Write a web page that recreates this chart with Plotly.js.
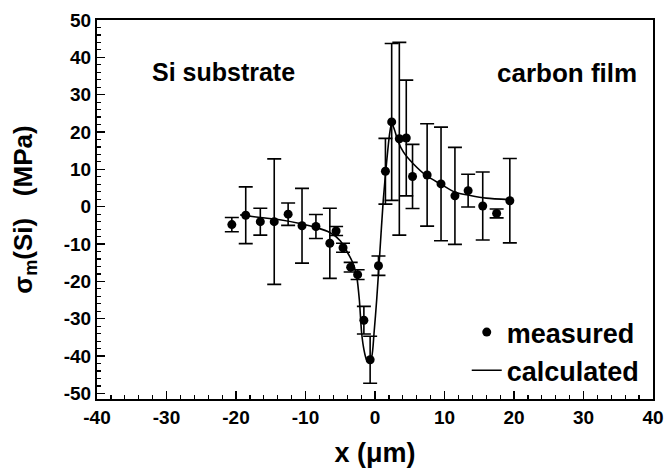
<!DOCTYPE html>
<html>
<head>
<meta charset="utf-8">
<script src="https://cdn.plot.ly/plotly-3.0.1.min.js"></script>
<style>html,body{margin:0;padding:0;background:#fff;}#chart{width:665px;height:469px;}</style>
</head>
<body>
<div id="chart"></div>
<script>
// measured data (position in µm, stress in MPa, error in MPa)
var measuredX = [-20.6, -18.6, -16.5, -14.5, -12.5, -10.5, -8.5, -6.5, -5.6, -4.6, -3.5, -2.5, -1.6, -0.7, 0.5, 1.5, 2.4, 3.5, 4.5, 5.4, 7.5, 9.5, 11.5, 13.4, 15.5, 17.5, 19.4];
var measuredY = [-4.8, -2.3, -4.0, -4.0, -2.0, -5.1, -5.3, -9.8, -6.5, -11.0, -16.2, -18.2, -30.4, -41.0, -15.8, 9.5, 22.7, 18.2, 18.4, 8.1, 8.5, 6.1, 2.9, 4.3, 0.2, -1.8, 1.6];
var measuredErr = [1.9, 7.6, 3.6, 16.8, 3.0, 10.0, 3.2, 9.4, 1.2, 1.2, 1.3, 1.3, 3.7, 6.3, 2.6, 8.8, 21.0, 25.8, 15.5, 8.6, 13.7, 15.2, 13.0, 4.4, 9.1, 1.2, 11.3];

// calculated curve
var calcX = [-19.4, -16.5, -13.7, -10.8, -8.4, -6.5, -5.0, -4.1, -3.2, -2.63, -2.25, -1.92, -1.58, -1.25, -0.96, -0.48, -0.14, 0.24, 0.72, 1.19, 1.7, 2.1, 2.4, 2.8, 3.3, 4.1, 5.5, 7.4, 9.4, 11.5, 13.7, 16.0, 19.4];
var calcY = [-2.2, -2.9, -3.5, -4.5, -5.6, -6.9, -9.1, -11.8, -15.0, -18.7, -25.0, -33.9, -38.4, -40.8, -41.5, -40.2, -33.9, -25.0, -11.6, 1.8, 12.5, 19.5, 22.4, 20.6, 17.6, 14.6, 11.5, 8.3, 6.1, 3.9, 3.0, 2.3, 1.9];

var xTickVals = [-40, -30, -20, -10, 0, 10, 20, 30, 40];
var xTickText = ['-40', '-30', '-20', '-10', '0', '10', '20', '30', '40'];
var yTickVals = [50, 40, 30, 20, 10, 0, -10, -20, -30, -40, -50];
var yTickText = ['50', '40', '30', '20', '10', '0', '-10', '-20', '-30', '-40', '-50'];

var FONT = 'Liberation Sans, Arial, Helvetica, sans-serif';

var traces = [
  {
    x: measuredX, y: measuredY, type: 'scatter', mode: 'markers', name: 'measured',
    marker: {color: '#000', size: 9},
    error_y: {type: 'data', array: measuredErr, visible: true, color: '#000', thickness: 1.6, width: 7}
  },
  {
    x: calcX, y: calcY, type: 'scatter', mode: 'lines', name: 'calculated',
    line: {color: '#000', width: 1.6, shape: 'spline', smoothing: 0.7}
  }
];

var axisCommon = {
  showgrid: false, zeroline: false, showline: true, mirror: true,
  linecolor: '#000', linewidth: 2, ticks: 'inside', ticklen: 8, tickwidth: 1.5, tickcolor: '#000',
  tickfont: {family: FONT, size: 19, color: '#000', weight: 700}
};

var layout = {
  width: 665, height: 469,
  margin: {l: 97, r: 12, t: 20, b: 70},
  paper_bgcolor: '#fff', plot_bgcolor: '#fff',
  showlegend: true,
  legend: {
    x: 0.665, y: 0.24, xanchor: 'left', yanchor: 'top',
    bgcolor: 'rgba(0,0,0,0)', borderwidth: 0,
    font: {family: FONT, size: 27, color: '#000', weight: 700}
  },
  xaxis: Object.assign({}, axisCommon, {
    range: [-40, 40], tickvals: xTickVals, ticktext: xTickText,
    minor: {ticks: 'inside', dtick: 2, ticklen: 4, tickwidth: 1.2, tickcolor: '#000'},
    title: {text: 'x (\u03bcm)', font: {family: FONT, size: 27, color: '#000', weight: 700}, standoff: 16}
  }),
  yaxis: Object.assign({}, axisCommon, {
    range: [-51.5, 50], tickvals: yTickVals, ticktext: yTickText,
    minor: {ticks: 'inside', dtick: 2, ticklen: 4, tickwidth: 1.2, tickcolor: '#000'},
    title: {text: '\u03c3<sub>m</sub>(Si)\u00a0\u00a0\u00a0(MPa)', font: {family: FONT, size: 26, color: '#000', weight: 700}, standoff: 24}
  }),
  annotations: [
    {text: 'Si substrate', xref: 'paper', yref: 'paper', x: 0.227, y: 0.863, xanchor: 'center', yanchor: 'middle', showarrow: false,
     font: {family: FONT, size: 25, color: '#000', weight: 700}},
    {text: 'carbon film', xref: 'paper', yref: 'paper', x: 0.845, y: 0.86, xanchor: 'center', yanchor: 'middle', showarrow: false,
     font: {family: FONT, size: 26, color: '#000', weight: 700}}
  ]
};

Plotly.newPlot('chart', traces, layout, {displayModeBar: false, staticPlot: true});
</script>
</body>
</html>
